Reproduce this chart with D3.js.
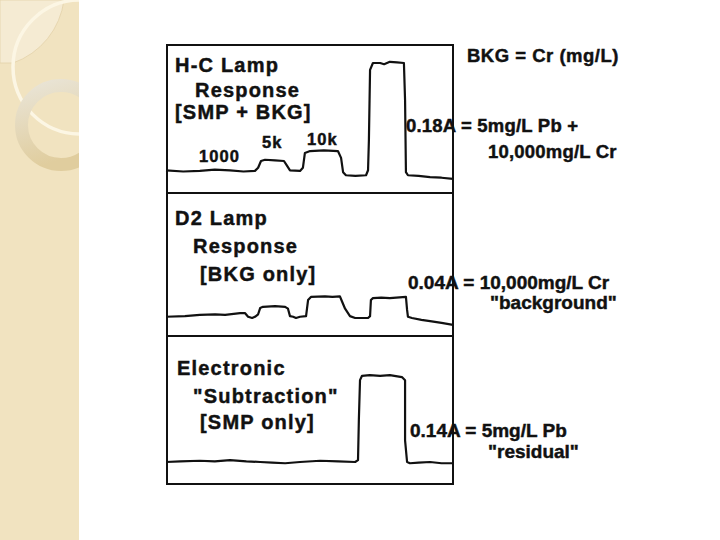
<!DOCTYPE html>
<html>
<head>
<meta charset="utf-8">
<script src="https://cdn.jsdelivr.net/npm/d3@7"></script>
<style>
  body { margin: 0; background: #fff; }
  svg { display: block; }
  .lbl { font-family: "Liberation Sans", Arial, sans-serif; font-weight: bold; fill: #111;
         stroke: #111; stroke-width: 0.45; }
  .trace { fill: none; stroke: #111; stroke-width: 2.2; stroke-linejoin: round; }
  .frame { fill: none; stroke: #111; stroke-width: 2; }
</style>
</head>
<body>
<svg width="720" height="540"></svg>
<script>
// H-C lamp trace: [time, absorbance]
const hcTrace = [
  [0, 0.006], [6, 0.004], [11.8, 0.005], [17, 0.007], [22.3, 0.006], [27, 0.004], [31.0, 0.005],
  [32.1, 0.010], [33.1, 0.021], [34.5, 0.023], [38, 0.022], [41.1, 0.021], [42.2, 0.013],
  [43.2, 0.006], [46.7, 0.005], [47.7, 0.010], [48.4, 0.034], [50.2, 0.037], [55, 0.038],
  [59.9, 0.037], [61.0, 0.026], [61.7, 0.003], [62.7, -0.002], [66, -0.003], [69.7, -0.002],
  [70.4, 0.006], [70.7, 0.055], [71.1, 0.168], [72.1, 0.179], [74.6, 0.179], [76, 0.177],
  [78.0, 0.181], [80.5, 0.180], [82.9, 0.179], [83.3, 0.119], [83.6, 0.003], [84.3, -0.002],
  [88, -0.003], [92.0, -0.005], [96, -0.006], [100, -0.008]
];
// D2 lamp trace (background only)
const d2Trace = [
  [0, 0.002], [6.6, 0.003], [11.8, 0.005], [17.1, 0.006], [20.6, 0.005], [25.8, 0.008],
  [27.5, 0.008], [28.6, 0.002], [30.0, 0.000], [31.0, 0.002], [32.1, 0.006], [32.8, 0.016],
  [33.8, 0.018], [38, 0.019], [41.5, 0.018], [42.5, 0.015], [43.2, 0.003], [44.3, 0.002],
  [45.3, 0.000], [46.7, 0.002], [48.8, 0.003], [49.5, 0.029], [50.5, 0.034], [55.4, 0.035],
  [58, 0.034], [60.6, 0.035], [61.3, 0.027], [62.4, 0.015], [64.1, 0.003], [65.9, 0.000],
  [70.4, 0.000], [71.1, 0.003], [71.4, 0.029], [72.1, 0.032], [75, 0.033], [78.0, 0.032],
  [83.6, 0.034], [84.0, 0.013], [84.3, 0.002], [85.7, 0.000], [89, -0.003], [92.0, -0.005],
  [96, -0.008], [100, -0.011]
];
// Corrected trace (sample only)
const corrTrace = [
  [0, 0.000], [5, 0.001], [11.8, 0.002], [17, 0.001], [22.3, 0.003], [28, 0.001], [32.8, 0.000],
  [37, -0.001], [41.5, -0.002], [46.7, 0.000], [53.7, 0.002], [60, 0.001], [65.9, 0.000],
  [66.9, 0.003], [67.2, 0.068], [67.6, 0.132], [68.3, 0.139], [71, 0.140], [74.6, 0.139],
  [78, 0.140], [82.2, 0.137], [83.3, 0.132], [83.3, 0.035], [84.0, 0.000], [85.0, -0.002],
  [88, -0.001], [92.0, 0.000], [96, -0.002], [100, -0.002]
];

const hcTitle = ["H-C Lamp", "Response", "[SMP + BKG]"];
const d2Title = ["D2 Lamp", "Response", "[BKG only]"];
const corrTitle = ["Electronic", "\"Subtraction\"", "[SMP only]"];
const concLabels = ["1000", "5k", "10k"];
const hcNote = ["0.18A = 5mg/L Pb +", "10,000mg/L Cr"];
const d2Note = ["0.04A = 10,000mg/L Cr", "\"background\""];
const corrNote = ["0.14A = 5mg/L Pb", "\"residual\""];
const legendNote = "BKG = Cr (mg/L)";

const svg = d3.select("svg");

// ---- slide decoration on the left ----
const defs = svg.append("defs");
defs.append("clipPath").attr("id", "strip")
  .append("rect").attr("x", 0).attr("y", 0).attr("width", 79).attr("height", 540);
const grad = defs.append("linearGradient").attr("id", "ringGrad")
  .attr("x1", 0).attr("y1", 0).attr("x2", 0.3).attr("y2", 1);
grad.append("stop").attr("offset", 0).attr("stop-color", "#e9e4d6");
grad.append("stop").attr("offset", 1).attr("stop-color", "#e0cd9e");

const deco = svg.append("g").attr("clip-path", "url(#strip)");
deco.append("rect").attr("width", 79).attr("height", 540).attr("fill", "#f1e3c0");
deco.append("path") // light corner square cut by an arc
  .attr("d", "M0,0 L64,0 A77,77 0 0 1 13,63 L0,63 Z")
  .attr("fill", "#f5ebd3").attr("stroke", "#e3d2aa").attr("stroke-width", 0.8);
deco.append("circle").attr("cx", 80).attr("cy", 67).attr("r", 67)
  .attr("fill", "none").attr("stroke", "#fcf6e4").attr("stroke-width", 3.5);
deco.append("circle").attr("cx", 61).attr("cy", 125).attr("r", 39.5)
  .attr("fill", "none").attr("stroke", "url(#ringGrad)").attr("stroke-width", 13);

// ---- scales ----
const x = d3.scaleLinear().domain([0, 100]).range([166, 453]);
const panels = [
  { top: 45, bottom: 193, zero: 174, trace: hcTrace },
  { top: 193, bottom: 336, zero: 318, trace: d2Trace },
  { top: 336, bottom: 484, zero: 462, trace: corrTrace }
];
panels.forEach(p => {
  p.y = d3.scaleLinear().domain([0, 0.2]).range([p.zero, p.zero - 124]);
});

// frame
svg.append("rect").attr("class", "frame")
  .attr("x", 167).attr("y", 45).attr("width", 286).attr("height", 439);
svg.selectAll("line.div").data(panels.slice(1)).enter().append("line")
  .attr("class", "frame")
  .attr("x1", 167).attr("x2", 453)
  .attr("y1", d => d.top).attr("y2", d => d.top);

// traces
panels.forEach(p => {
  const line = d3.line().x(d => x(d[0])).y(d => p.y(d[1]));
  svg.append("path").datum(p.trace).attr("class", "trace").attr("d", line);
});

// ---- text ----
function addLines(lines, pos, size, spacing) {
  lines.forEach((t, i) => {
    svg.append("text").attr("class", "lbl")
      .attr("x", pos[i][0]).attr("y", pos[i][1])
      .style("font-size", size + "px")
      .style("letter-spacing", spacing + "px")
      .text(t);
  });
}
addLines(hcTitle, [[175, 72], [195, 97], [175, 119]], 20, 1.2);
addLines(d2Title, [[175, 225], [193, 253], [200, 281]], 20, 1.2);
addLines(corrTitle, [[177, 375], [193, 403], [200, 429]], 20, 1.2);
addLines(concLabels, [[199, 162], [262, 148], [307, 145]], 16.5, 1.1);
addLines(hcNote, [[406, 132], [488, 158]], 18.5, 0.2);
addLines(d2Note, [[408, 289], [490, 309]], 19, 0);
addLines(corrNote, [[410, 437], [488, 458]], 19, 0);
addLines([legendNote], [[467, 62]], 18.5, 0.5);
</script>
</body>
</html>
